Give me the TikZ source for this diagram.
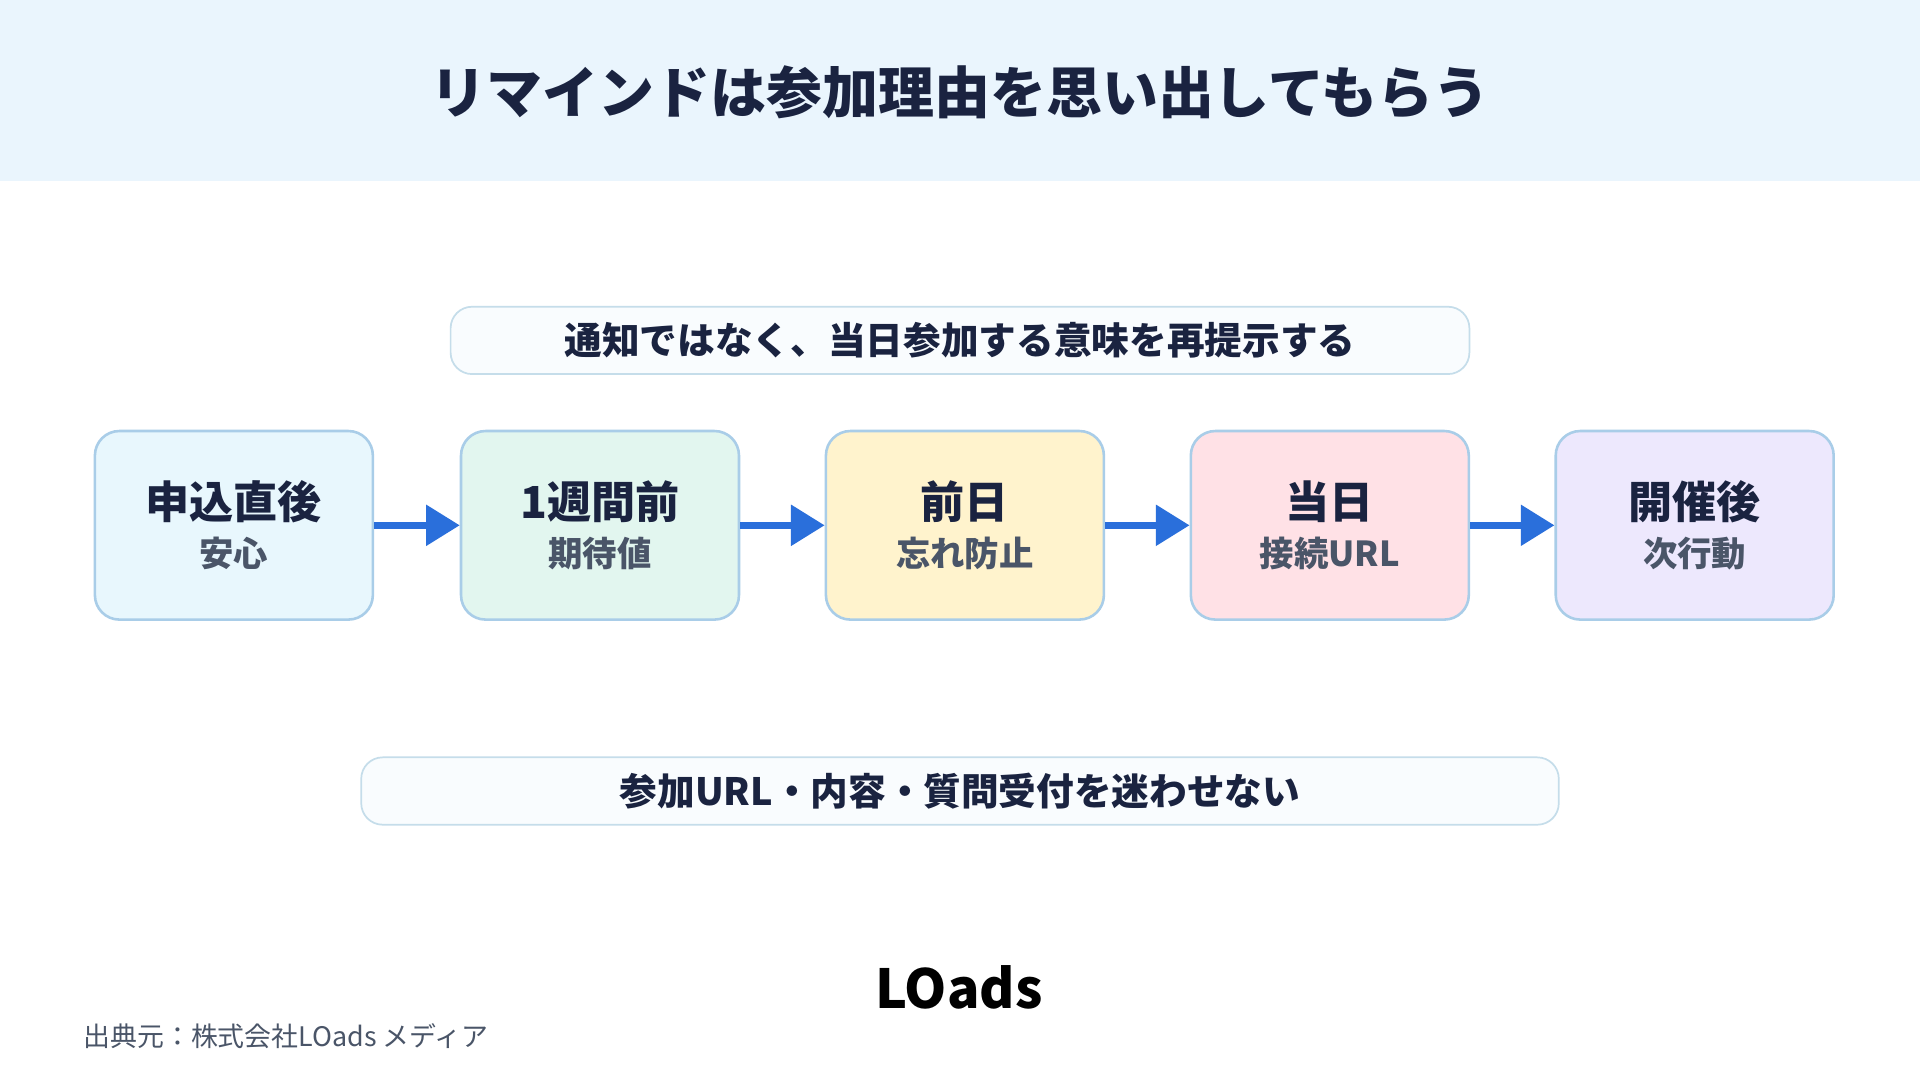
\documentclass[tikz,border=0pt]{standalone}
\usepackage{fontspec}
\setmainfont{Noto Sans CJK JP}
\usetikzlibrary{arrows.meta}
\definecolor{navy}{HTML}{1A2340}
\definecolor{hdr}{HTML}{EAF5FD}
\definecolor{bord}{HTML}{A9CDE8}
\definecolor{lbord}{HTML}{C5DDEA}
\definecolor{subc}{HTML}{4A5568}
\definecolor{arr}{HTML}{2A6FDB}
\definecolor{fA}{HTML}{E8F7FD}
\definecolor{fB}{HTML}{E2F6EF}
\definecolor{fC}{HTML}{FFF3CD}
\definecolor{fD}{HTML}{FFE1E6}
\definecolor{fE}{HTML}{EDE8FD}
\begin{document}
\begin{tikzpicture}[x=0.02cm,y=-0.02cm,
  stepbox/.style={draw=bord,line width=1.2pt,rounded corners=0.4cm,minimum width=227*0.02cm,minimum height=154*0.02cm,inner sep=0pt},
  note/.style={draw=lbord,line width=0.8pt,fill=white!70!hdr,rounded corners=0.35cm,minimum height=55*0.02cm,inner sep=0pt,text=navy,font=\bfseries\fontsize{17.5}{20}\selectfont},
  ttl/.style={text=navy,font=\bfseries\fontsize{20.5}{24}\selectfont},
  sub/.style={text=subc,font=\bfseries\fontsize{16}{18}\selectfont},
  ar/.style={draw=arr,line width=3pt,-{Triangle[length=0.55cm,width=0.65cm]}}]
\useasboundingbox (0,0) rectangle (1568,882);
\fill[white] (0,0) rectangle (1568,882);
\fill[hdr] (0,0) rectangle (1568,148);
\node[text=navy,font=\bfseries\fontsize{26}{30}\selectfont] (title) at (784,75) {リマインドは参加理由を思い出してもらう};
\node[note,minimum width=832*0.02cm] (top) at (784,278) {通知ではなく、当日参加する意味を再提示する};
\node[note,minimum width=978*0.02cm] (bot) at (784,646) {参加URL・内容・質問受付を迷わせない};
\foreach \n/\x/\f/\t/\s in {a/191/fA/申込直後/安心, b/490/fB/1週間前/期待値, c/788/fC/前日/忘れ防止, d/1086/fD/当日/接続URL, e/1384/fE/開催後/次行動}{
  \node[stepbox,fill=\f] (\n) at (\x,429) {};
  \node[ttl] (\n t) at (\x,410) {\t};
  \node[sub] (\n s) at (\x,452) {\s};
}
\draw[ar] (a.east) -- (b.west);
\draw[ar] (b.east) -- (c.west);
\draw[ar] (c.east) -- (d.west);
\draw[ar] (d.east) -- (e.west);
\node[font=\bfseries\fontsize{25}{28}\selectfont,text=black] (logo) at (783,806) {LOads};
\node[anchor=west,text=subc,font=\fontsize{12.5}{15}\selectfont] (src) at (62,846) {出典元：株式会社LOads メディア};
\end{tikzpicture}
\end{document}
